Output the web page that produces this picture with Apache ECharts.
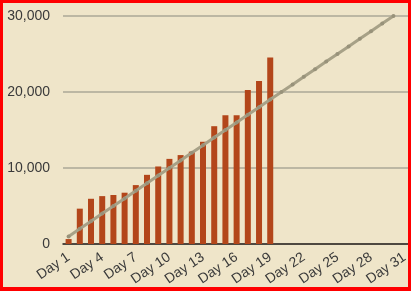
<!DOCTYPE html>
<html>
<head>
<meta charset="utf-8">
<script src="https://cdn.jsdelivr.net/npm/echarts@6/dist/echarts.min.js"></script>
<style>
html,body{margin:0;padding:0;background:#efe5c9;}
#wrap{position:relative;width:411px;height:291px;overflow:hidden;}
#chart{position:absolute;left:0;top:0;width:411px;height:291px;}
#frame{position:absolute;left:0;top:0;width:411px;height:291px;box-sizing:border-box;border:3px solid #ff0000;border-left-width:3px;border-bottom-width:4px;pointer-events:none;}
</style>
</head>
<body>
<div id="wrap"><div id="chart"></div><div id="frame"></div></div>
<script>
const categories = ["Day 1","Day 2","Day 3","Day 4","Day 5","Day 6","Day 7","Day 8","Day 9","Day 10","Day 11","Day 12","Day 13","Day 14","Day 15","Day 16","Day 17","Day 18","Day 19","Day 20","Day 21","Day 22","Day 23","Day 24","Day 25","Day 26","Day 27","Day 28","Day 29","Day 30","Day 31"];
const actualValues = [650, 4650, 5950, 6300, 6450, 6750, 7750, 9100, 10200, 11200, 11700, 12150, 13450, 15500, 16950, 16950, 20250, 21450, 24550];
const targetValues = [1000, 2000, 3000, 4000, 5000, 6000, 7000, 8000, 9000, 10000, 11000, 12000, 13000, 14000, 15000, 16000, 17000, 18000, 19000, 20000, 21000, 22000, 23000, 24000, 25000, 26000, 27000, 28000, 29000, 30000];
const yTicks = [0, 10000, 20000, 30000];

const chart = echarts.init(document.getElementById('chart'), null, {renderer:'canvas'});
chart.setOption({
  backgroundColor: '#efe5c9',
  animation: false,
  grid: {left: 63, top: 16, width: 350.5, height: 228, containLabel: false},
  xAxis: {
    type: 'category',
    data: categories,
    boundaryGap: true,
    axisLine: {show: true, lineStyle: {color: '#2a2520', width: 1.5}},
    axisTick: {show: false},
    axisLabel: {
      interval: 2, rotate: 34, margin: 12,
      color: '#3a3a3a', fontSize: 14, fontFamily: 'Liberation Sans, Arial, sans-serif'
    },
    splitLine: {show: false}
  },
  yAxis: {
    type: 'value',
    min: yTicks[0], max: yTicks[yTicks.length - 1], interval: 10000,
    axisLine: {show: false},
    axisTick: {show: false},
    axisLabel: {
      margin: 13, color: '#3a3a3a', fontSize: 14,
      fontFamily: 'Liberation Sans, Arial, sans-serif',
      formatter: v => v.toLocaleString('en-US')
    },
    splitLine: {show: true, lineStyle: {color: '#bcb7a3', width: 2}}
  },
  series: [
    {
      type: 'bar', data: actualValues, barWidth: 6,
      itemStyle: {color: '#b3461a'}, z: 2
    },
    {
      type: 'line', data: targetValues,
      symbol: 'circle', symbolSize: 4, showSymbol: true,
      lineStyle: {color: '#a7a187', width: 3},
      itemStyle: {color: '#98927a'}, z: 3
    }
  ]
});
</script>
</body>
</html>
